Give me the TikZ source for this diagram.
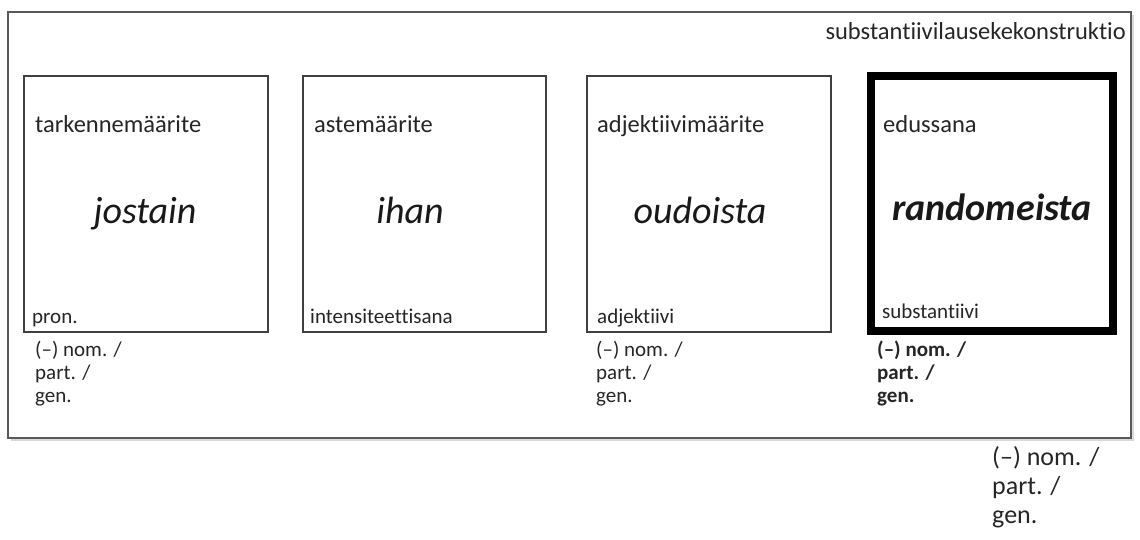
\documentclass[tikz,border=0pt]{standalone}
\usepackage{fontspec}
\setmainfont[RawFeature=-liga]{Carlito}
\begin{document}
\begin{tikzpicture}[x=1pt,y=-1pt,
  box/.style={draw=black!75, line width=1.6pt, inner sep=0pt, outer sep=0pt},
  headbox/.style={draw=black, line width=8pt, inner sep=0pt, outer sep=0pt},
  lbl/.style={font=\fontsize{24.5}{28}\selectfont, text=black!85, inner sep=0pt, anchor=base west},
  small/.style={font=\fontsize{21}{23}\selectfont, text=black!85, inner sep=0pt, anchor=base west},
  cases/.style={font=\fontsize{21}{23}\selectfont, text=black!85, inner sep=0pt, anchor=north west, align=left},
  word/.style={font=\fontsize{38}{42}\selectfont\itshape, text=black!90, inner sep=0pt, anchor=base},
  bigcases/.style={font=\fontsize{26}{29}\selectfont, text=black!85, inner sep=0pt, anchor=north west, align=left}]
\useasboundingbox (0,0) rectangle (1140,540);
% outer frame with shadow
\fill[black!15] (11,15) rectangle (1134,441);
\node[draw=black!65, fill=white, line width=2pt, minimum width=1123, minimum height=426, inner sep=0pt] (frame) at (569.5,225) {};
\node[lbl, anchor=base east] (title) at (1126,40) {substantiivilausekekonstruktio};
% boxes
\node[box, minimum width=244, minimum height=256] (b1) at (146,204) {};
\node[box, minimum width=243, minimum height=256] (b2) at (424.5,204) {};
\node[box, minimum width=244, minimum height=256] (b3) at (709,204) {};
\node[headbox, minimum width=242, minimum height=255] (b4) at (992,203.5) {};
% top labels
\node[lbl] (t1) at (35,133) {tarkennemäärite};
\node[lbl] (t2) at (314,133) {astemäärite};
\node[lbl] (t3) at (597,133) {adjektiivimäärite};
\node[lbl] (t4) at (883,133) {edussana};
% words
\node[word] (w1) at (145,223) {jostain};
\node[word] (w2) at (410,223) {ihan};
\node[word] (w3) at (700,223) {oudoista};
\node[word, font=\fontsize{38}{42}\selectfont\bfseries\itshape] (w4) at (992,221) {randomeista};
% bottom labels
\node[small] (p1) at (32,323) {pron.};
\node[small] (p2) at (310,323) {intensiteettisana};
\node[small] (p3) at (597,323) {adjektiivi};
\node[small] (p4) at (882,318) {substantiivi};
% case labels
\node[cases] (c1) at (35,341) {(–) nom. /\\part. /\\gen.};
\node[cases] (c3) at (596,341) {(–) nom. /\\part. /\\gen.};
\node[cases, font=\fontsize{21}{23}\selectfont\bfseries] (c4) at (877,341) {(–) nom. /\\part. /\\gen.};
\node[bigcases] (c5) at (992,446) {(–) nom. /\\part. /\\gen.};
\end{tikzpicture}
\end{document}
